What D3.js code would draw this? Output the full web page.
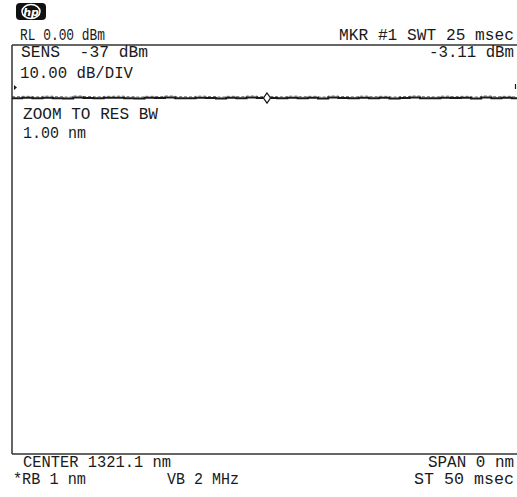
<!DOCTYPE html>
<html><head><meta charset="utf-8">
<script src="https://cdn.jsdelivr.net/npm/d3@7"></script>
<style>body{margin:0;background:#fff}svg{display:block}</style>
</head><body>
<script>
// ---- data ----
const refLevel = 0;            // dBm (RL)
const markerTime = [25];       // msec
const markerValue = [-3.11];   // dBm
const sweepTime = 50;          // msec (ST)
const traceTimes = [0,1,2,3,4,5,6,7,8,9,10,11,12,13,14,15,16,17,18,19,20,21,22,23,24,25,26,27,28,29,30,31,32,33,34,35,36,37,38,39,40,41,42,43,44,45,46,47,48,49,49.6];
const traceValues = [-3.12,-3.10,-3.13,-3.09,-3.12,-3.14,-3.08,-3.11,-3.13,-3.10,-3.09,-3.12,-3.14,-3.10,-3.11,-3.08,-3.12,-3.13,-3.09,-3.11,-3.14,-3.10,-3.12,-3.08,-3.11,-3.11,-3.13,-3.09,-3.12,-3.10,-3.14,-3.08,-3.11,-3.13,-3.09,-3.12,-3.10,-3.14,-3.11,-3.08,-3.12,-3.13,-3.09,-3.11,-3.10,-3.14,-3.08,-3.12,-3.10,-3.13,-3.11];
const topLeftLabels = ["RL 0.00 dBm","SENS  -37 dBm","10.00 dB/DIV"];
const topRightLabels = ["MKR #1 SWT 25 msec","-3.11 dBm"];
const noteLabels = ["ZOOM TO RES BW","1.00 nm"];
const bottomLeftLabels = ["CENTER 1321.1 nm","*RB 1 nm","VB 2 MHz"];
const bottomRightLabels = ["SPAN 0 nm","ST 50 msec"];

// ---- layout ----
const W = 517, H = 497;
const plot = {left:12, top:45, right:517, bottom:454};
const svg = d3.select("body").append("svg").attr("width",W).attr("height",H);

const x = d3.scaleLinear().domain([0, sweepTime]).range([plot.left, 522]);
const y = d3.scaleLinear().domain([refLevel, -24]).range([plot.top, plot.bottom]);

const ink = "#1a1a1a";
const font = "'Liberation Mono', 'DejaVu Sans Mono', monospace";

function label(txt, px, py, w, anchor) {
  const g = svg.append("g").attr("transform", `translate(${px},${py}) scale(1,1.3)`);
  g.append("text")
    .attr("x", 0).attr("y", 0)
    .attr("xml:space", "preserve").style("white-space", "pre")
    .attr("font-family", font).attr("font-size", 12.5)
    .attr("fill", ink)
    .attr("text-anchor", anchor || "start")
    .attr("textLength", w).attr("lengthAdjust", "spacingAndGlyphs")
    .text(txt);
}

// hp logo
const logo = svg.append("g");
logo.append("rect").attr("x",16).attr("y",3).attr("width",30).attr("height",17).attr("rx",4).attr("fill","#111");
logo.append("ellipse").attr("cx",31).attr("cy",11.5).attr("rx",9).attr("ry",7).attr("fill","none").attr("stroke","#fff").attr("stroke-width",1.5);
logo.append("text").attr("x",31).attr("y",15.5).attr("text-anchor","middle")
  .attr("font-family","'DejaVu Sans', sans-serif").attr("font-style","italic").attr("font-weight","bold")
  .attr("font-size",11).attr("fill","#fff").text("hp");

// frame
svg.append("line").attr("x1",plot.left).attr("x2",plot.right).attr("y1",plot.top).attr("y2",plot.top).attr("stroke","#333").attr("stroke-width",1.5);
svg.append("line").attr("x1",plot.left).attr("x2",plot.right).attr("y1",plot.bottom).attr("y2",plot.bottom).attr("stroke","#333").attr("stroke-width",1.5);
svg.append("line").attr("x1",plot.left).attr("x2",plot.left).attr("y1",plot.top).attr("y2",plot.bottom).attr("stroke","#333").attr("stroke-width",1.5);

// texts
label(topLeftLabels[0], 20, 40, 85);
label(topLeftLabels[1], 21, 57, 127);
label(topLeftLabels[2], 20, 78, 113);
label(topRightLabels[0], 514, 40, 175, "end");
label(topRightLabels[1], 514, 57, 85, "end");
label(noteLabels[0], 23, 119, 135);
label(noteLabels[1], 23, 138, 63);
label(bottomLeftLabels[0], 23, 467, 148);
label(bottomLeftLabels[1], 13, 484, 73);
label(bottomLeftLabels[2], 167, 484, 72);
label(bottomRightLabels[0], 514, 467, 86, "end");
label(bottomRightLabels[1], 514, 484, 100, "end");

// reference level arrow at left
svg.append("path").attr("d", `M14,${85}L17,${87.5}L14,${90}Z`).attr("fill", ink);
// small tick at right edge
svg.append("line").attr("x1",515.5).attr("x2",515.5).attr("y1",84).attr("y2",89).attr("stroke",ink).attr("stroke-width",1.2);

// trace
const pts = traceTimes.map((t,i)=>[t, traceValues[i]]);
svg.append("path").datum(pts)
  .attr("d", d3.line().x(d=>x(d[0])).y(d=>y(d[1])).curve(d3.curveStepAfter))
  .attr("fill","none").attr("stroke",ink).attr("stroke-width",2);
svg.append("path").datum(pts)
  .attr("d", d3.line().x(d=>x(d[0])).y(d=>y(d[1])-1.5).curve(d3.curveStepAfter))
  .attr("fill","none").attr("stroke",ink).attr("stroke-width",1).attr("stroke-dasharray","3,2").attr("opacity",0.6);

// marker diamond
markerTime.forEach((t,i)=>{
  const mx = x(t), my = y(markerValue[i]);
  svg.append("path").attr("d", `M${mx},${my-5}L${mx+3.5},${my}L${mx},${my+5}L${mx-3.5},${my}Z`)
    .attr("fill","#fff").attr("stroke",ink).attr("stroke-width",1.3);
});
</script>
</body></html>
